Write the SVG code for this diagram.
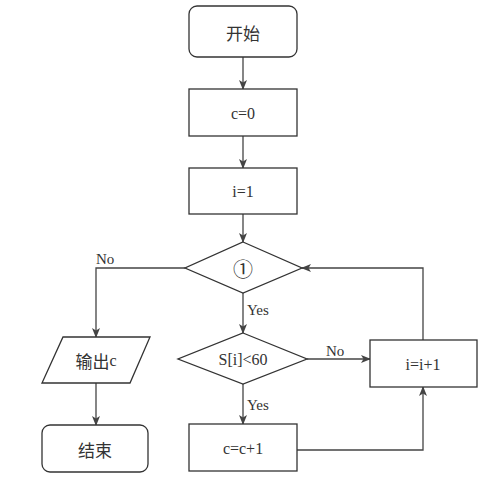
<svg xmlns="http://www.w3.org/2000/svg" width="499" height="488" viewBox="0 0 499 488">
<defs>
<marker id="ah" markerWidth="10" markerHeight="8" refX="9" refY="4" orient="auto" markerUnits="userSpaceOnUse">
<path d="M0,0 L10,4 L0,8 L2.5,4 Z" fill="#444"/>
</marker>
<style>
.s{fill:#fff;stroke:#333;stroke-width:1.3}
.c{fill:none;stroke:#444;stroke-width:1.3;marker-end:url(#ah)}
.t{font-family:'Liberation Serif','DejaVu Serif',serif;font-size:16px;fill:#333;text-anchor:middle;dominant-baseline:central}
.cjk{font-family:'Noto Sans CJK SC',sans-serif;font-size:17px;fill:#333;text-anchor:middle;dominant-baseline:central}
.lab{font-family:'Liberation Serif','DejaVu Serif',serif;font-size:15px;fill:#333;text-anchor:start;dominant-baseline:central}
.circ{font-family:'Noto Sans CJK SC',sans-serif;font-size:20px;fill:#333;text-anchor:middle;dominant-baseline:central}
</style>
</defs>
<rect width="499" height="488" fill="#fff"/>
<g id="connectors">
<path class="c" d="M243,57 V89"/>
<path class="c" d="M243,136 V168"/>
<path class="c" d="M243,214 V242"/>
<path class="c" d="M185,268 H96 V337"/>
<path class="c" d="M96,383 V425"/>
<path class="c" d="M243,293 V333"/>
<path class="c" d="M243,384 V424"/>
<path class="c" d="M307,359 H370"/>
<path class="c" d="M297,450 H423 V387"/>
<path class="c" d="M423,340 V268 H302"/>
<text class="lab" x="96" y="259">No</text>
<text class="lab" x="247" y="310">Yes</text>
<text class="lab" x="247" y="405">Yes</text>
<text class="lab" x="326" y="351">No</text>
</g>
<g id="start"><rect class="s" x="189" y="6" width="108" height="51" rx="8"/><text class="cjk" x="243" y="32">开始</text></g>
<g id="c0"><rect class="s" x="189" y="89" width="108" height="47"/><text class="t" x="243" y="113">c=0</text></g>
<g id="i1"><rect class="s" x="189" y="168" width="108" height="46"/><text class="t" x="243" y="191">i=1</text></g>
<g id="cond1"><polygon class="s" points="243,242 302,268 243,293 185,268"/><text class="circ" x="243" y="268">①</text></g>
<g id="cond2"><polygon class="s" points="243,333 307,359 243,384 178,359"/><text class="t" x="243" y="359">S[i]&lt;60</text></g>
<g id="cinc"><rect class="s" x="189" y="424" width="108" height="47"/><text class="t" x="243" y="448">c=c+1</text></g>
<g id="iinc"><rect class="s" x="370" y="340" width="107" height="47"/><text class="t" x="423" y="364">i=i+1</text></g>
<g id="output"><polygon class="s" points="63,337 150,337 130,383 42,383"/><text class="t" x="96" y="360"><tspan font-family="'Noto Sans CJK SC',sans-serif" font-size="17">输出</tspan>c</text></g>
<g id="end"><rect class="s" x="42" y="425" width="106" height="47" rx="8"/><text class="cjk" x="95" y="449">结束</text></g>
</svg>
